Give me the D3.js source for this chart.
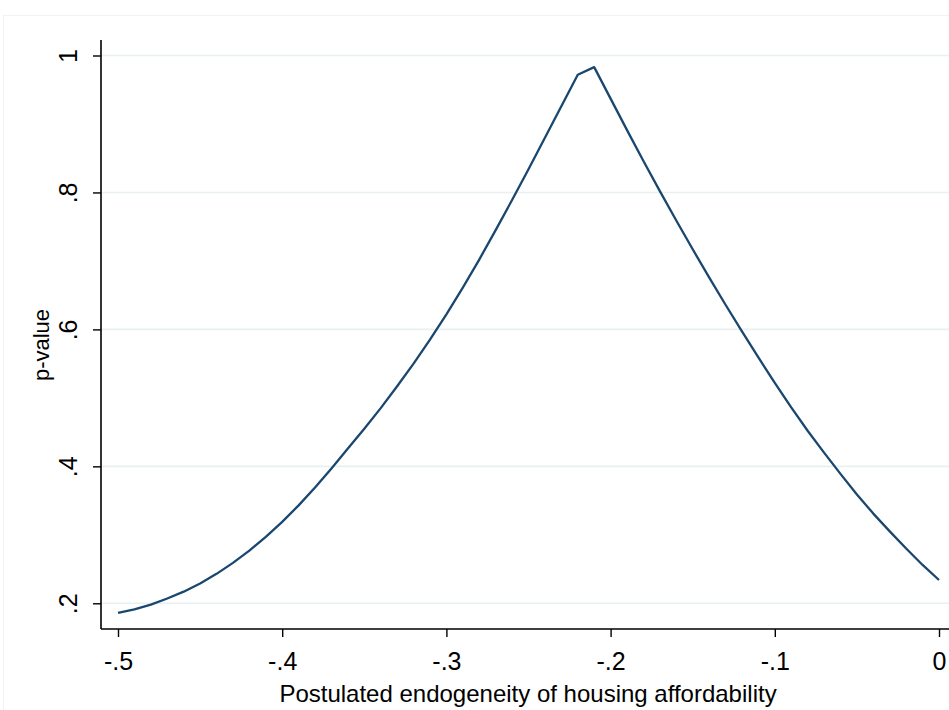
<!DOCTYPE html>
<html>
<head>
<meta charset="utf-8">
<script src="https://cdn.jsdelivr.net/npm/d3@7"></script>
<style>
  html, body { margin: 0; padding: 0; background: #ffffff; }
  svg { display: block; font-family: "Liberation Sans", Arial, sans-serif; }
</style>
</head>
<body>
<svg id="chart" width="949" height="710"></svg>
<script>
// Postulated endogeneity values (x) and the resulting p-values (y)
const endogeneity = [
  -0.50, -0.49, -0.48, -0.47, -0.46, -0.45, -0.44, -0.43, -0.42, -0.41,
  -0.40, -0.39, -0.38, -0.37, -0.36, -0.35, -0.34, -0.33, -0.32, -0.31,
  -0.30, -0.29, -0.28, -0.27, -0.26, -0.25, -0.24, -0.23, -0.22, -0.21,
  -0.20, -0.19, -0.18, -0.17, -0.16, -0.15, -0.14, -0.13, -0.12, -0.11,
  -0.10, -0.09, -0.08, -0.07, -0.06, -0.05, -0.04, -0.03, -0.02, -0.01, 0.00
];
const pValues = [
  0.186, 0.191, 0.198, 0.207, 0.217, 0.229, 0.243, 0.259, 0.277, 0.297,
  0.319, 0.343, 0.369, 0.397, 0.426, 0.455, 0.485, 0.517, 0.550, 0.585,
  0.622, 0.661, 0.702, 0.745, 0.789, 0.834, 0.880, 0.926, 0.972, 0.983,
  0.937, 0.891, 0.846, 0.802, 0.759, 0.717, 0.676, 0.636, 0.597, 0.559,
  0.522, 0.486, 0.452, 0.420, 0.389, 0.359, 0.331, 0.305, 0.280, 0.256, 0.234
];
const xTicks = [-0.5, -0.4, -0.3, -0.2, -0.1, 0];
const yTicks = [0.2, 0.4, 0.6, 0.8, 1];
const xTitle = "Postulated endogeneity of housing affordability";
const yTitle = "p-value";

const svg = d3.select("#chart");

// plot region
const plot = { left: 101, right: 956, top: 40, bottom: 629 };

const x = d3.scaleLinear().domain([-0.5, 0]).range([118, 939]);
const y = d3.scaleLinear().domain([0.2, 1]).range([603.3, 55.5]);

// faint outer frame of the graph region
svg.append("rect")
  .attr("x", 3.5).attr("y", 15.5)
  .attr("width", 960).attr("height", 720)
  .attr("fill", "none")
  .attr("stroke", "#f2f2f2")
  .attr("stroke-width", 1);

// horizontal grid lines
svg.append("g")
  .selectAll("line")
  .data(yTicks)
  .join("line")
  .attr("x1", plot.left).attr("x2", plot.right)
  .attr("y1", d => y(d)).attr("y2", d => y(d))
  .attr("stroke", "#e8f0f2")
  .attr("stroke-width", 1.6);

// tick labels with a plain hyphen and no leading zero: -.5, .8, 1, 0
const fmt = d => {
  if (d === 0) return "0";
  if (Math.abs(d) === 1) return d < 0 ? "-1" : "1";
  const s = Math.abs(d).toFixed(1).replace(/^0/, "");
  return (d < 0 ? "-" : "") + s;
};

// y axis
const yAxis = d3.axisLeft(y)
  .tickValues(yTicks)
  .tickSize(8)
  .tickPadding(0)
  .tickFormat(fmt);

const gy = svg.append("g")
  .attr("transform", `translate(${plot.left},0)`)
  .call(yAxis);
gy.select(".domain").remove();
gy.append("line")
  .attr("x1", 0).attr("x2", 0)
  .attr("y1", plot.top).attr("y2", plot.bottom)
  .attr("stroke", "#000").attr("stroke-width", 1.6);
gy.selectAll(".tick line").attr("stroke", "#000").attr("stroke-width", 1.4);
gy.selectAll(".tick text")
  .attr("x", null).attr("dy", null)
  .attr("transform", "translate(-24,0) rotate(-90)")
  .attr("text-anchor", "middle")
  .attr("fill", "#000")
  .style("font-size", "25px");

// x axis
const xAxis = d3.axisBottom(x)
  .tickValues(xTicks)
  .tickSize(8)
  .tickPadding(0)
  .tickFormat(fmt);

const gx = svg.append("g")
  .attr("transform", `translate(0,${plot.bottom})`)
  .call(xAxis);
gx.select(".domain").remove();
gx.append("line")
  .attr("x1", plot.left).attr("x2", plot.right)
  .attr("y1", 0).attr("y2", 0)
  .attr("stroke", "#000").attr("stroke-width", 1.6);
gx.selectAll(".tick line").attr("stroke", "#000").attr("stroke-width", 1.4);
gx.selectAll(".tick text")
  .attr("y", 41).attr("dy", null)
  .attr("fill", "#000")
  .style("font-size", "25px");

// axis titles
svg.append("text")
  .attr("x", 528).attr("y", 702)
  .attr("text-anchor", "middle")
  .style("font-size", "24px")
  .attr("fill", "#000")
  .text(xTitle);

svg.append("text")
  .attr("transform", "translate(49,345) rotate(-90)")
  .attr("text-anchor", "middle")
  .style("font-size", "22px")
  .attr("fill", "#000")
  .text(yTitle);

// p-value line
const points = endogeneity.map((e, i) => [e, pValues[i]]);
svg.append("path")
  .datum(points)
  .attr("fill", "none")
  .attr("stroke", "#1a476f")
  .attr("stroke-width", 2.3)
  .attr("stroke-linejoin", "round")
  .attr("d", d3.line().x(d => x(d[0])).y(d => y(d[1])));
</script>
</body>
</html>
